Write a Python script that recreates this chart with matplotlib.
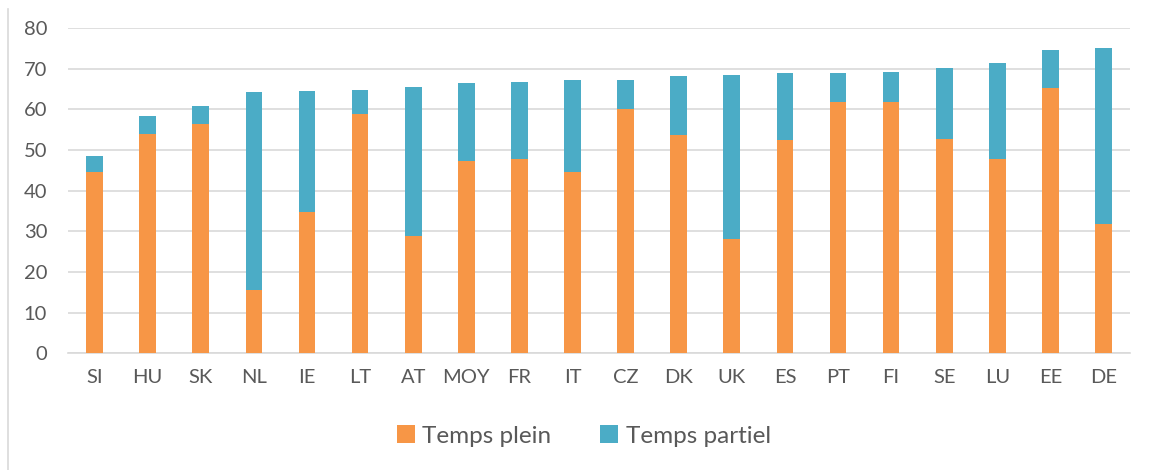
import matplotlib
matplotlib.use("Agg")
import matplotlib.pyplot as plt
from matplotlib.lines import Line2D

pays = ["SI", "HU", "SK", "NL", "IE", "LT", "AT", "MOY", "FR", "IT",
        "CZ", "DK", "UK", "ES", "PT", "FI", "SE", "LU", "EE", "DE"]
temps_plein = [44.5, 53.9, 56.5, 15.5, 34.7, 58.9, 28.8, 47.3, 47.8, 44.5,
               60.1, 53.7, 28.0, 52.4, 61.9, 61.7, 52.7, 47.8, 65.2, 31.9]
total = [48.6, 58.3, 60.8, 64.3, 64.6, 64.8, 65.5, 66.5, 66.6, 67.1,
         67.3, 68.2, 68.4, 68.9, 68.9, 69.1, 70.2, 71.3, 74.6, 75.1]
temps_partiel = [t - p for t, p in zip(total, temps_plein)]
yticks = [0, 10, 20, 30, 40, 50, 60, 70, 80]

orange = "#F79646"
bleu = "#4BACC6"
gris_txt = "#595959"

plt.rcParams["font.family"] = ["Lato", "DejaVu Sans"]

fig = plt.figure(figsize=(11.49, 4.70), dpi=100)
ax = fig.add_axes([0.0592, 0.2483, 0.9835 - 0.0592, 0.9404 - 0.2483])

x = range(len(pays))
ax.bar(x, temps_plein, width=0.315, color=orange, label="Temps plein", zorder=3)
ax.bar(x, temps_partiel, width=0.315, bottom=temps_plein, color=bleu,
       label="Temps partiel", zorder=3)

ax.set_xlim(-0.5, len(pays) - 0.5)
ax.set_ylim(0, 80)
ax.set_yticks(yticks)
ax.set_xticks(list(x))
ax.set_xticklabels(pays)
ax.grid(axis="y", color="#D9D9D9", linewidth=1.2, zorder=0)
for s in ["top", "right", "left"]:
    ax.spines[s].set_visible(False)
ax.spines["bottom"].set_color("#D9D9D9")
ax.spines["bottom"].set_linewidth(1.2)
ax.tick_params(axis="both", length=0, labelsize=14.5, colors=gris_txt)
ax.tick_params(axis="x", pad=11)
ax.tick_params(axis="y", pad=15)

h, l = ax.get_legend_handles_labels()
fig.legend(h, l, loc="center", bbox_to_anchor=(0.508, 0.072), ncol=2, frameon=False,
           fontsize=17.5, labelcolor=gris_txt, handlelength=0.75, handleheight=0.75,
           handletextpad=0.3, columnspacing=2.0)

# bordure gauche du cadre
fig.add_artist(Line2D([0.007, 0.007], [0, 0.98], transform=fig.transFigure,
                      color="#D9D9D9", linewidth=1.2))

fig.savefig("out.png", dpi=100)
